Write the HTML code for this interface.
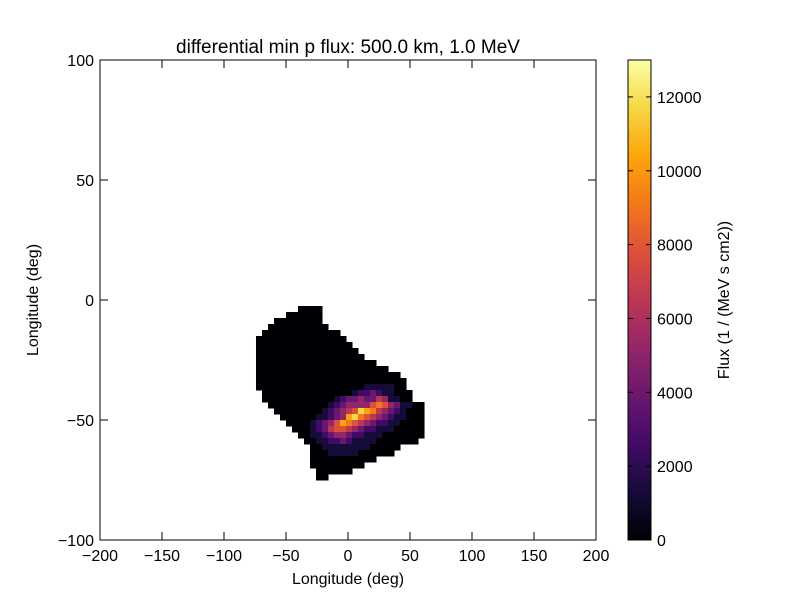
<!DOCTYPE html>
<html><head><meta charset="utf-8"><style>
body{margin:0;background:#fff}
svg text{font-family:"Liberation Sans",sans-serif;fill:#000}
</style></head><body>
<svg id="c" width="800" height="600">
<defs><linearGradient id="inf" x1="0" y1="1" x2="0" y2="0">
<stop offset="0" stop-color="#000004"/><stop offset="0.1" stop-color="#160b39"/><stop offset="0.2" stop-color="#420a68"/><stop offset="0.3" stop-color="#6a176e"/><stop offset="0.4" stop-color="#932667"/><stop offset="0.5" stop-color="#bc3754"/><stop offset="0.6" stop-color="#dd513a"/><stop offset="0.7" stop-color="#f37819"/><stop offset="0.8" stop-color="#fca50a"/><stop offset="0.9" stop-color="#f6d746"/><stop offset="1" stop-color="#fcffa4"/>
</linearGradient></defs>
<g id="cells"></g>
<rect x="100" y="60" width="496" height="480" fill="none" stroke="#000" stroke-width="1"/>
<g id="axes"></g>
<text x="348" y="53" font-size="19" text-anchor="middle">differential min p flux: 500.0 km, 1.0 MeV</text>
<text x="348" y="584" font-size="16" text-anchor="middle">Longitude (deg)</text>
<text transform="translate(38,300) rotate(-90)" font-size="16" text-anchor="middle">Longitude (deg)</text>
<rect x="628" y="60" width="23" height="480" fill="url(#inf)" stroke="#000"/>
<g id="cbar"></g>
<text transform="translate(729,300) rotate(-90)" font-size="16" text-anchor="middle">Flux (1 / (MeV s cm2))</text>
</svg>
<script>
const xTicks=[-200,-150,-100,-50,0,50,100,150,200];
const yTicks=[100,50,0,-50,-100];
const cTicks=[0,2000,4000,6000,8000,10000,12000];
const lon0=-74.2, dLon=4.84, lat0=-2.5, dLat=2.5, levelStep=1300, vmax=13000;
const grid=[
".......0000..................",
".....000000..................",
"...00000000..................",
"..0000000000.................",
".0000000000000...............",
"000000000000000..............",
"0000000000000000.............",
"00000000000000000............",
"000000000000000000...........",
"00000000000000000000.........",
"0000000000000000000000.......",
"000000000000000000000000.....",
"0000000000000000000000000....",
"0000000000000000001111100....",
".0000000000000001223211000...",
".0000000000001233433541100...",
"..00000000001234444676431100..",
"...0000000012345698754321000.",
"....000000112348976543211000.",
".....00001234687654322110000",
"......0001235665432211100000",
".......001123443221110000000..",
"........0011223211110000000...",
".........001111111100000.....",
".........00011111000000......",
".........00000000000.........",
".........000000000...........",
"..........000000.............",
"..........00................."
];
const NS='http://www.w3.org/2000/svg';
const X=v=>100+(v+200)*496/400, Y=v=>60+(100-v)*480/200, CY=v=>540-v/vmax*480;
const stops=[[0,0,0,4],[.1,22,11,57],[.2,66,10,104],[.3,106,23,110],[.4,147,38,103],[.5,188,55,84],[.6,221,81,58],[.7,243,120,25],[.8,252,165,10],[.9,246,215,70],[1,252,255,164]];
function cmap(t){t=Math.max(0,Math.min(1,t));for(let i=1;i<stops.length;i++){if(t<=stops[i][0]){const a=stops[i-1],b=stops[i],f=(t-a[0])/(b[0]-a[0]);return`rgb(${[1,2,3].map(k=>Math.round(a[k]+(b[k]-a[k])*f)).join(',')})`;}}return'#fcffa4';}
const cg=document.getElementById('cells');
grid.forEach((row,i)=>{for(let j=0;j<row.length;j++){const ch=row[j];if(ch<'0'||ch>'9')continue;
const v=+ch*levelStep, lon=lon0+j*dLon, lat=lat0-i*dLat;
const r=document.createElementNS(NS,'rect');
r.setAttribute('x',X(lon));r.setAttribute('y',Y(lat));
r.setAttribute('width',X(lon+dLon)-X(lon)+0.5);r.setAttribute('height',Y(lat-dLat)-Y(lat)+0.5);
r.setAttribute('fill',cmap(v/vmax));


cg.appendChild(r);}});
const ax=document.getElementById('axes');
function line(g,x1,y1,x2,y2){const l=document.createElementNS(NS,'line');l.setAttribute('x1',x1);l.setAttribute('y1',y1);l.setAttribute('x2',x2);l.setAttribute('y2',y2);l.setAttribute('stroke','#000');g.appendChild(l);return l;}
function text(g,x,y,s,anchor){const t=document.createElementNS(NS,'text');t.setAttribute('x',x);t.setAttribute('y',y);t.setAttribute('font-size','16');t.setAttribute('text-anchor',anchor);t.textContent=s;g.appendChild(t);return t;}
const fmt=v=>v<0?'\u2212'+(-v):''+v;
xTicks.forEach(v=>{const x=X(v);line(ax,x,540,x,532);line(ax,x,60,x,68);
const t=text(ax,x,561,fmt(v),'middle');

});
yTicks.forEach(v=>{const y=Y(v);line(ax,100,y,108,y);line(ax,596,y,588,y);
const t=text(ax,94,y+6,fmt(v),'end');

});
const cb=document.getElementById('cbar');
cTicks.forEach(v=>{const y=CY(v);line(cb,628,y,633,y);line(cb,651,y,646,y);
const t=text(cb,657,y+6,''+v,'start');

});
</script>
</body></html>
